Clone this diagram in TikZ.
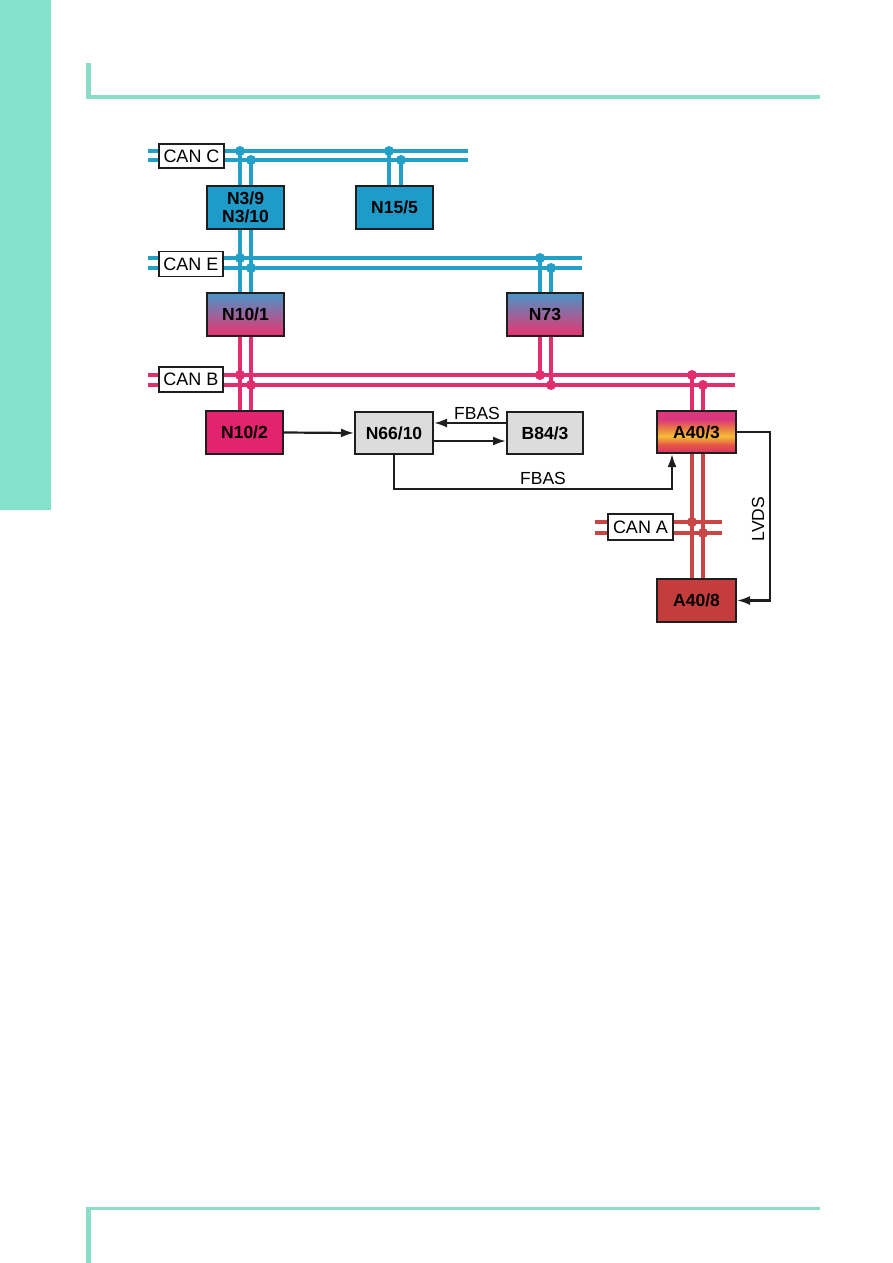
\documentclass[tikz,border=0pt]{standalone}
\usepackage{fontspec}
\setmainfont{Liberation Sans}
\usetikzlibrary{arrows.meta}
\definecolor{mint}{RGB}{130,226,204}
\definecolor{mintline}{RGB}{138,222,200}
\definecolor{busblue}{RGB}{35,160,200}
\definecolor{buspink}{RGB}{226,45,110}
\definecolor{busred}{RGB}{200,70,70}
\definecolor{boxblue}{RGB}{30,155,201}
\definecolor{boxpink}{RGB}{228,35,110}
\definecolor{boxgray}{RGB}{220,220,220}
\definecolor{boxred}{RGB}{196,60,60}
\definecolor{gradblue}{RGB}{72,150,200}
\definecolor{gradpink}{RGB}{236,50,110}
\definecolor{atop}{RGB}{218,55,125}
\definecolor{aor}{RGB}{234,120,70}
\definecolor{ayel}{RGB}{244,190,55}
\definecolor{ared}{RGB}{230,85,70}
\definecolor{abot}{RGB}{214,50,100}
\definecolor{ink}{RGB}{30,30,30}
\pgfdeclareverticalshading{afourty}{100bp}{color(0bp)=(abot); color(25bp)=(abot); color(35bp)=(ared); color(45bp)=(ayel); color(55bp)=(aor); color(65bp)=(atop); color(75bp)=(atop); color(100bp)=(atop)}
\pgfdeclarelayer{bg}
\pgfsetlayers{bg,main}
\begin{document}
\begin{tikzpicture}[x=1pt,y=-1pt,
  unit/.style={draw=ink, line width=2pt, inner sep=0pt, align=center,
    font=\bfseries\fontsize{17.5}{17.5}\selectfont},
  canbox/.style={draw=ink, fill=white, line width=1.5pt, inner sep=0pt,
    font=\fontsize{18}{20}\selectfont},
  bus/.style={line width=3.5pt},
  dotb/.style={fill=busblue},
  dotp/.style={fill=buspink},
  dotr/.style={fill=busred},
  arr/.style={draw=ink, line width=2.2pt, -{Latex[length=13pt,width=9pt]}},
  lbl/.style={font=\fontsize{17.5}{20}\selectfont, inner sep=0pt}
]
\useasboundingbox (0,0) rectangle (893,1263);
% page decoration
\fill[mint] (0,0) rectangle (51,510);
\fill[mintline] (86,63) rectangle (91,99);
\fill[mintline] (86,95) rectangle (820,99);
\fill[mintline] (86,1207) rectangle (820,1210);
\fill[mintline] (86,1207) rectangle (91,1263);

% nodes
\node[canbox, minimum width=65, minimum height=24] (canC) at (191.5,156) {CAN C};
\node[canbox, minimum width=64, minimum height=25] (canE) at (191,264) {CAN E};
\node[canbox, minimum width=64, minimum height=25] (canB) at (191,379.5) {CAN B};
\node[canbox, minimum width=65, minimum height=26] (canA) at (640.5,527) {CAN A};

\node[unit, fill=boxblue, minimum width=77, minimum height=43] (n3) at (245.5,207.5) {N3/9\\N3/10};
\node[unit, fill=boxblue, minimum width=77, minimum height=43] (n15) at (394.5,207.5) {N15/5};
\node[unit, top color=gradblue, bottom color=gradpink, minimum width=77, minimum height=43] (n101) at (245.5,314.5) {N10/1};
\node[unit, top color=gradblue, bottom color=gradpink, minimum width=76, minimum height=43] (n73) at (545,314.5) {N73};
\node[unit, fill=boxpink, minimum width=77, minimum height=43] (n102) at (244.5,432.5) {N10/2};
\node[unit, fill=boxgray, minimum width=78, minimum height=42] (n66) at (394,433) {N66/10};
\node[unit, fill=boxgray, minimum width=76, minimum height=42] (b84) at (545,433) {B84/3};
\node[unit, shading=afourty, minimum width=79, minimum height=42] (a403) at (696.5,432) {A40/3};
\node[unit, fill=boxred, minimum width=79, minimum height=43] (a408) at (696.5,600.5) {A40/8};

% tap points
\coordinate (dC1) at (240,151); \coordinate (dC2) at (251,160);
\coordinate (dC3) at (389,151); \coordinate (dC4) at (401,160);
\coordinate (dE1) at (240,258); \coordinate (dE2) at (251,268);
\coordinate (dE3) at (540,258); \coordinate (dE4) at (551,268);
\coordinate (dB1) at (240,375); \coordinate (dB2) at (251,385);
\coordinate (dB3) at (540,375); \coordinate (dB4) at (551,385);
\coordinate (dB5) at (692,375); \coordinate (dB6) at (703,385);
\coordinate (dA1) at (692,522); \coordinate (dA2) at (703,533);

\begin{pgfonlayer}{bg}
% buses
\draw[bus,busblue] (148,151) -- (468,151);
\draw[bus,busblue] (148,160) -- (468,160);
\draw[bus,busblue] (148,258) -- (582,258);
\draw[bus,busblue] (148,268) -- (582,268);
\draw[bus,buspink] (148,375) -- (735,375);
\draw[bus,buspink] (148,385) -- (735,385);
\draw[bus,busred] (595,522) -- (722,522);
\draw[bus,busred] (595,533) -- (722,533);
% blue stubs
\draw[bus,busblue] (dC1) -- (dC1 |- n101.north);
\draw[bus,busblue] (dC2) -- (dC2 |- n101.north);
\draw[bus,busblue] (dC3) -- (dC3 |- n15.north);
\draw[bus,busblue] (dC4) -- (dC4 |- n15.north);
\draw[bus,busblue] (dE3) -- (dE3 |- n73.north);
\draw[bus,busblue] (dE4) -- (dE4 |- n73.north);
% pink stubs
\draw[bus,buspink] (dB1 |- n101.south) -- (dB1 |- n102.north);
\draw[bus,buspink] (dB2 |- n101.south) -- (dB2 |- n102.north);
\draw[bus,buspink] (dB3 |- n73.south) -- (dB3);
\draw[bus,buspink] (dB4 |- n73.south) -- (dB4);
\draw[bus,buspink] (dB5) -- (dB5 |- a403.north);
\draw[bus,buspink] (dB6) -- (dB6 |- a403.north);
% red stubs
\draw[bus,busred] (dA1 |- a403.south) -- (dA1 |- a408.north);
\draw[bus,busred] (dA2 |- a403.south) -- (dA2 |- a408.north);
\end{pgfonlayer}

% dots
\foreach \p in {dC1,dC2,dC3,dC4,dE1,dE2,dE3,dE4} \fill[dotb] (\p) circle (5);
\foreach \p in {dB1,dB2,dB3,dB4,dB5,dB6} \fill[dotp] (\p) circle (5);
\foreach \p in {dA1,dA2} \fill[dotr] (\p) circle (5);

% signal arrows
\draw[arr] (n102.east) -- (n66.west);
\draw[arr] ([yshift=10pt]b84.west) -- ([yshift=10pt]n66.east);
\draw[arr] ([yshift=-8pt]n66.east) -- ([yshift=-8pt]b84.west);
\draw[arr] (n66.south) -- ++(0,34) -| ([xshift=-24.5pt]a403.south);
\draw[arr] (a403.east) -- ++(33,0) |- (a408.east);

% labels
\node[lbl] (fbas1) at (477,413) {FBAS};
\node[lbl] (fbas2) at (543,478) {FBAS};
\node[lbl, rotate=90] (lvds) at (758,519) {LVDS};
\end{tikzpicture}
\end{document}
